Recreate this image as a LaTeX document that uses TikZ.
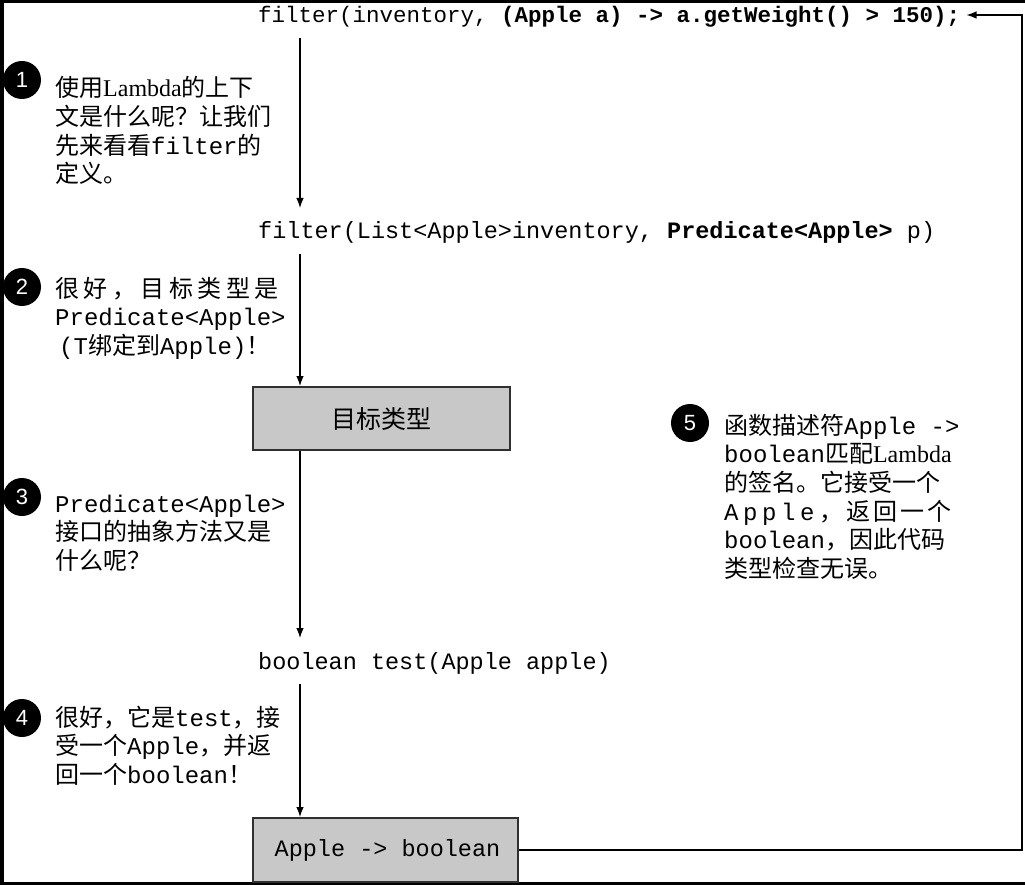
\documentclass[tikz,border=0pt]{standalone}
\usepackage{fontspec}
\setmainfont{Liberation Serif}
\setmonofont{Liberation Mono}
\newfontfamily\cjk{Noto Sans CJK SC}
\newfontfamily\numfont{Liberation Sans}
\usetikzlibrary{arrows.meta}
\definecolor{boxgray}{HTML}{C8C8C8}
\definecolor{boxline}{HTML}{303030}
\newcommand\zh[1]{{\cjk #1}}
\newcommand\mono[1]{{\ttfamily #1}}
\makeatletter
\newcommand\spreadout[2]{\def\sp@amt{#1}\sp@loop#2\relax}
\def\sp@loop#1{\ifx#1\relax\else#1\kern\sp@amt\relax\expandafter\sp@loop\fi}
\makeatother
\tikzset{
  code/.style={font=\fontsize{23.5}{28}\ttfamily, inner xsep=0pt, inner ysep=0pt,
    text height=22pt, text depth=6pt, outer ysep=9pt, anchor=base west},
  note/.style={font=\fontsize{24}{28.7}\selectfont, align=left, inner sep=0pt, anchor=base west},
  num/.style={circle, fill=black, minimum size=38pt, inner sep=0pt, text=white,
    font=\numfont\fontsize{22}{22}\selectfont},
  typebox/.style={draw=boxline, line width=2pt, fill=boxgray, inner sep=0pt},
  arr/.style={-{Latex[length=10pt,width=7.5pt]}, line width=1.2pt},
}
\begin{document}
\begin{tikzpicture}[x=1pt,y=-1pt]
\useasboundingbox (0,0) rectangle (1025,885);
% frame
\draw[line width=3pt] (0,1.5) -- (1025,1.5);
\draw[line width=3.5pt] (1.75,0) -- (1.75,885);
\draw[line width=3pt] (0,883.5) -- (1025,883.5);
% columns
\coordinate (ax) at (300,0);
\coordinate (rx) at (1022,0);
% code lines
\node[code, font=\fontsize{22.5}{28}\ttfamily] (t1) at (258,23)
  {filter(inventory, \textbf{(Apple a) -> a.getWeight() > 150);}};
\node[code] (t2) at (258,239) {filter(List<Apple>inventory, \textbf{Predicate<Apple>} p)};
\node[code] (t3) at (258,669) {boolean test(Apple apple)};
% boxes
\node[typebox, minimum width=257pt, minimum height=63pt,
  font=\cjk\fontsize{25}{25}\selectfont] (b1) at (381.5,418.5) {目标类型};
\node[typebox, minimum width=265pt, minimum height=64pt,
  font=\fontsize{23.5}{28}\ttfamily] (b2) at (385.5,850) {\hspace*{4pt}Apple -> boolean};
% arrows
\draw[arr] (t1.south -| ax) -- (t2.north -| ax);
\draw[arr] (t2.south -| ax) -- (b1.north -| ax);
\draw[arr] (b1.south -| ax) -- (t3.north -| ax);
\draw[arr] (t3.south -| ax) -- (b2.north -| ax);
\draw[arr] (b2.east) -- (b2.east -| rx) -- (rx |- t1.east) -- ([xshift=6pt]t1.east);
% numbers
\node[num] (n1) at (22,80) {1};
\node[num] (n2) at (22,287) {2};
\node[num] (n3) at (22,497) {3};
\node[num] (n4) at (22,718) {4};
\node[num] (n5) at (690,423) {5};
% notes (anchored at the baseline of the last line)
\node[note] (p1) at (55,183)
  {\zh{使用}Lambda\zh{的上下}\\
   \zh{文是什么呢？让我们}\\
   \zh{先来看看}\mono{filter}\zh{的}\\
   \zh{定义。}};
\node[note] (p2) at (55,354.5)
  {\zh{\spreadout{4.5pt}{很好，目标类型是}}\\
   \mono{Predicate<Apple>}\\
   \hspace*{4pt}\mono{(T}\zh{绑定到}\mono{Apple)}\zh{！}};
\node[note] (p3) at (55,569.5)
  {\mono{Predicate<Apple>}\\
   \zh{接口的抽象方法又是}\\
   \zh{什么呢？}};
\node[note] (p4) at (55,783.5)
  {\zh{很好，它是}\mono{test}\zh{，接}\\
   \zh{受一个}\mono{Apple}\zh{，并返}\\
   \zh{回一个}\mono{boolean}\zh{！}};
\node[note] (p5) at (724,577.5)
  {\zh{函数描述符}\mono{Apple ->}\\
   \mono{boolean}\zh{匹配}Lambda\\
   \zh{的签名。它接受一个}\\
   \mono{\spreadout{4.6pt}{Apple}}\zh{\spreadout{3pt}{，返回一个}}\\
   \mono{boolean}\zh{，因此代码}\\
   \zh{类型检查无误。}};
\end{tikzpicture}
\end{document}
